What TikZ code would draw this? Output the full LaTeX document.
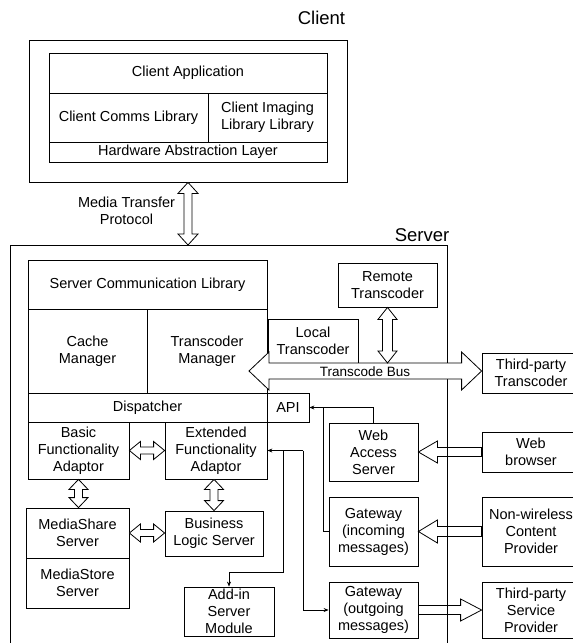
\documentclass[tikz,border=0pt]{standalone}
\usepackage{fontspec}
\setmainfont{Liberation Sans}
\usetikzlibrary{calc,arrows.meta}
\tikzset{
  box/.style={draw, line width=0.8pt, inner sep=1pt, align=center, anchor=center,
    font=\fontsize{14.5}{17}\selectfont},
  hollow/.style={draw, line width=0.8pt, fill=white, line join=miter},
  hollowline/.style={draw, line width=0.8pt, line join=miter},
  conn/.style={line width=0.7pt, -{Stealth[length=5pt,width=4pt]}},
  plain/.style={line width=0.7pt},
  frame/.style={line width=0.8pt},
  title/.style={font=\fontsize{18.5}{22}\selectfont, inner sep=0pt},
}
% horizontal double arrow: #1 left tip, #2 right tip, #3 shaft half, #4 head half, #5 head length, #6 style
\newcommand{\HDA}[6]{%
  \path[#6] let \p1=#1, \p2=#2 in
   (\x1,\y1) -- (\x1+#5pt,\y1+#4pt) -- (\x1+#5pt,\y1+#3pt) -- (\x2-#5pt,\y1+#3pt)
   -- (\x2-#5pt,\y1+#4pt) -- (\x2,\y1) -- (\x2-#5pt,\y1-#4pt) -- (\x2-#5pt,\y1-#3pt)
   -- (\x1+#5pt,\y1-#3pt) -- (\x1+#5pt,\y1-#4pt) -- cycle;}
% vertical double arrow: #1 top tip, #2 bottom tip
\newcommand{\VDA}[6]{%
  \path[#6] let \p1=#1, \p2=#2 in
   (\x1,\y1) -- (\x1+#4pt,\y1-#5pt) -- (\x1+#3pt,\y1-#5pt) -- (\x1+#3pt,\y2+#5pt)
   -- (\x1+#4pt,\y2+#5pt) -- (\x1,\y2) -- (\x1-#4pt,\y2+#5pt) -- (\x1-#3pt,\y2+#5pt)
   -- (\x1-#3pt,\y1-#5pt) -- (\x1-#4pt,\y1-#5pt) -- cycle;}
% single horizontal arrow, left-pointing: #1 tail (right), #2 tip (left)
\newcommand{\LSA}[6]{%
  \path[#6] let \p1=#1, \p2=#2 in
   (\x2,\y2) -- (\x2+#5pt,\y2+#4pt) -- (\x2+#5pt,\y2+#3pt) -- (\x1,\y2+#3pt)
   -- (\x1,\y2-#3pt) -- (\x2+#5pt,\y2-#3pt) -- (\x2+#5pt,\y2-#4pt) -- cycle;}
% single horizontal arrow, right-pointing: #1 tail (left), #2 tip (right)
\newcommand{\RSA}[6]{%
  \path[#6] let \p1=#1, \p2=#2 in
   (\x2,\y2) -- (\x2-#5pt,\y2+#4pt) -- (\x2-#5pt,\y2+#3pt) -- (\x1,\y2+#3pt)
   -- (\x1,\y2-#3pt) -- (\x2-#5pt,\y2-#3pt) -- (\x2-#5pt,\y2-#4pt) -- cycle;}
\begin{document}
\begin{tikzpicture}[x=1pt,y=-1pt]
\useasboundingbox (0,0) rectangle (573,643);
\clip (0,0) rectangle (573,643);
\fill[white] (0,0) rectangle (573,643);

% ---------------- Client ----------------
\node[title] (clienttitle) at (321.5,18) {Client};
\node[box, minimum width=318pt, minimum height=142pt] (client) at (188,111) {};
\node[box, minimum width=278pt, minimum height=40pt] (capp) at (188,73) {Client Application};
\node[box, minimum width=159pt, minimum height=49pt] (ccomms) at (128.5,117.5) {Client Comms Library};
\node[box, minimum width=119pt, minimum height=49pt] (cimg) at (267.5,117.5) {Client Imaging\\Library Library};
\node[box, minimum width=278pt, minimum height=20pt] (hal) at (188,152) {Hardware Abstraction Layer};

% Media transfer protocol
\node[font=\fontsize{14.5}{17}\selectfont, align=center, inner sep=0pt] (mtp) at (126.5,211) {Media Transfer\\Protocol};

% ---------------- Server frame ----------------
\coordinate (srvtl) at (10,245);
\coordinate (srvtr) at (447,245);
\coordinate (srvbl) at (10,660);
\coordinate (srvbr) at (447,660);
\draw[frame] (srvbl) -- (srvtl) -- (srvtr) -- (srvbr);
\node[title] (servertitle) at (422,235) {Server};

\VDA{(client.south)}{(client.south |- srvtl)}{4}{10}{11}{hollow}

% ---------------- Server internals ----------------
\node[box, minimum width=239pt, minimum height=49pt] (scl) at (147.5,284.5) {Server Communication Library};
\node[box, minimum width=119pt, minimum height=84pt] (cache) at (87.5,351) {Cache\\Manager};
\node[box, minimum width=120pt, minimum height=84pt] (tmgr) at (207,351) {Transcoder\\Manager};
\node[box, minimum width=239pt, minimum height=29pt] (disp) at (147.5,407.5) {Dispatcher};
\node[box, minimum width=42pt, minimum height=29pt] (api) at (288,407.5) {API};
\node[box, minimum width=101pt, minimum height=57pt] (basic) at (78.5,450.5) {Basic\\Functionality\\Adaptor};
\node[box, minimum width=102pt, minimum height=57pt] (ext) at (216,450.5) {Extended\\Functionality\\Adaptor};
\node[box, minimum width=103pt, minimum height=50pt] (mshare) at (77.5,533) {MediaShare\\Server};
\node[box, minimum width=103pt, minimum height=50pt] (mstore) at (77.5,583) {MediaStore\\Server};
\node[box, minimum width=98pt, minimum height=45pt] (biz) at (214,533.5) {Business\\Logic Server};
\node[box, minimum width=90pt, minimum height=49pt] (addin) at (229,611.5) {Add-in\\Server\\Module};

\node[box, minimum width=89pt, minimum height=58pt] (web) at (373.5,452) {Web\\Access\\Server};
\node[box, minimum width=89pt, minimum height=69pt] (gin) at (373.5,531.5) {Gateway\\(incoming\\messages)};
\node[box, minimum width=89pt, minimum height=56pt] (gout) at (373.5,610) {Gateway\\(outgoing\\messages)};

\node[box, minimum width=99pt, minimum height=44pt] (remote) at (387.5,285) {Remote\\Transcoder};
\node[box, minimum width=90pt, minimum height=44pt] (local) at (313,341) {Local\\Transcoder};

% ---------------- External ----------------
\node[box, minimum width=98pt, minimum height=40pt] (tptrans) at (531,373) {Third-party\\Transcoder};
\node[box, minimum width=98pt, minimum height=40pt] (browser) at (531,452) {Web\\browser};
\node[box, minimum width=98pt, minimum height=69pt] (nonwl) at (531,531.5) {Non-wireless\\Content\\Provider};
\node[box, minimum width=98pt, minimum height=56pt] (tpserv) at (531,610) {Third-party\\Service\\Provider};

% ---------------- Hollow arrows ----------------
\HDA{(basic.east)}{(ext.west |- basic.east)}{3.5}{9}{11}{hollow}
\HDA{(mshare.east)}{(biz.west |- mshare.east)}{3.5}{9}{11}{hollow}
\VDA{(basic.south)}{(basic.south |- mshare.north)}{4}{9.5}{10}{hollow}
\VDA{(biz.north |- ext.south)}{(biz.north)}{4}{9.5}{10}{hollow}

% Transcode bus
\coordinate (busL) at (249,371);
\coordinate (busTop) at (387.5,363);
\HDA{(busL)}{(tptrans.west |- busL)}{8}{19}{20}{hollow}
\node[font=\fontsize{13.5}{16}\selectfont, inner sep=0pt] (buslabel) at (365,371.5) {Transcode Bus};
\VDA{(remote.south)}{(busTop)}{5}{9.5}{12}{hollow}

% external arrows (server boundary line stays visible)
\LSA{(browser.west)}{(web.east |- browser.west)}{4.5}{11}{19}{hollowline}
\LSA{(nonwl.west)}{(gin.east |- nonwl.west)}{5}{11.5}{19}{hollowline}
\RSA{(gout.east)}{(tpserv.west |- gout.east)}{4.5}{11}{21}{hollowline}

% ---------------- Thin connectors ----------------
\coordinate (jA) at (323,407.5);
\draw[conn] (web.north) |- (api.east);
\draw[plain] (gin.west) -| (jA);

\coordinate (jB) at (303,450.5);
\coordinate (jC) at (283,450.5);
\coordinate (kC) at (283,572);
\draw[conn] (jB) -- (ext.east);
\draw[conn] (jB) |- (gout.west);
\draw[conn] (jC) -- (kC) -| (addin.north);
\end{tikzpicture}
\end{document}
